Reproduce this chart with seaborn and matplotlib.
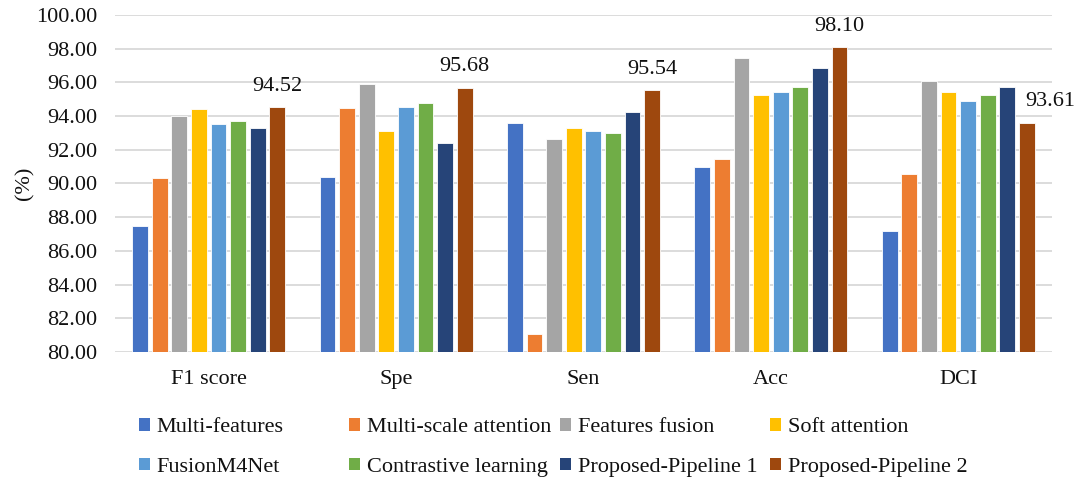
import matplotlib
matplotlib.use("Agg")
import matplotlib.pyplot as plt
from matplotlib.patches import Patch
import seaborn as sns
import pandas as pd

metrics = ["F1 score", "Spe", "Sen", "Acc", "DCI"]
methods = ["Multi-features", "Multi-scale attention", "Features fusion", "Soft attention",
           "FusionM4Net", "Contrastive learning", "Proposed-Pipeline 1", "Proposed-Pipeline 2"]

multi_features = [87.48, 90.39, 93.57, 90.96, 87.16]
multi_scale_attention = [90.31, 94.46, 81.09, 91.47, 90.56]
features_fusion = [94.00, 95.90, 92.62, 97.47, 96.10]
soft_attention = [94.42, 93.10, 93.31, 95.23, 95.41]
fusionm4net = [93.55, 94.54, 93.14, 95.41, 94.90]
contrastive_learning = [93.71, 94.80, 92.98, 95.71, 95.27]
pipeline_1 = [93.29, 92.38, 94.22, 96.85, 95.71]
pipeline_2 = [94.52, 95.68, 95.54, 98.10, 93.61]

series = [multi_features, multi_scale_attention, features_fusion, soft_attention,
          fusionm4net, contrastive_learning, pipeline_1, pipeline_2]
colors = ["#4472C4", "#ED7D31", "#A5A5A5", "#FFC000",
          "#5B9BD5", "#70AD47", "#264478", "#9E480E"]

rows = []
for name, vals in zip(methods, series):
    for m, v in zip(metrics, vals):
        rows.append({"metric": m, "method": name, "value": v})
df = pd.DataFrame(rows)

sns.set_theme(style="white")
plt.rcParams["font.family"] = ["Liberation Serif", "DejaVu Serif"]
txt = "#111111"
fs = 16

fig = plt.figure(figsize=(10.84, 4.79), dpi=100)
ax = fig.add_axes([115 / 1084, 1 - 352 / 479, (1052 - 115) / 1084, (352 - 15) / 479])

sns.barplot(data=df, x="metric", y="value", hue="method", order=metrics,
            hue_order=methods, palette=colors, saturation=1, width=0.837, gap=0.2,
            edgecolor="white", linewidth=0.6, legend=False, ax=ax, zorder=3)

ax.set_ylim(80, 100)
ax.set_yticks([80 + 2 * i for i in range(11)])
ax.set_yticklabels([f"{80 + 2 * i:.2f}" for i in range(11)], fontsize=fs, color=txt)
ax.set_xlim(-0.5, 4.5)
ax.tick_params(axis="y", length=0, pad=13)
ax.tick_params(axis="x", length=0, pad=13, labelsize=fs, labelcolor=txt)
ax.grid(axis="y", color="#D9D9D9", linewidth=1.3, zorder=0)
for s in ax.spines.values():
    s.set_visible(False)
ax.set_xlabel("")
ax.set_ylabel("(%)", fontsize=fs, color=txt, labelpad=1)

# value labels on the Proposed-Pipeline 2 bars; the last one sits to the right
last = ax.containers[-1]
for k, (bar, v) in enumerate(zip(last, pipeline_2)):
    dx = 17 if k == len(pipeline_2) - 1 else 0
    ax.annotate(f"{v:.2f}", xy=(bar.get_x() + bar.get_width() / 2, v),
                xytext=(dx, 15), textcoords="offset points",
                ha="center", va="center", fontsize=fs, color=txt)

handles = [Patch(facecolor=c, edgecolor="none") for c in colors]
col_x = [139, 349, 560, 770]
for i, x in enumerate(col_x):
    fig.legend([handles[i], handles[i + 4]], [methods[i], methods[i + 4]],
               loc="upper left", bbox_to_anchor=(x / 1084, 1 - 418 / 479),
               frameon=False, fontsize=fs, handlelength=0.5, handleheight=0.5,
               handletextpad=0.3, labelspacing=0.92, borderpad=0, borderaxespad=0,
               labelcolor=txt)

fig.savefig("out.png", dpi=100)
